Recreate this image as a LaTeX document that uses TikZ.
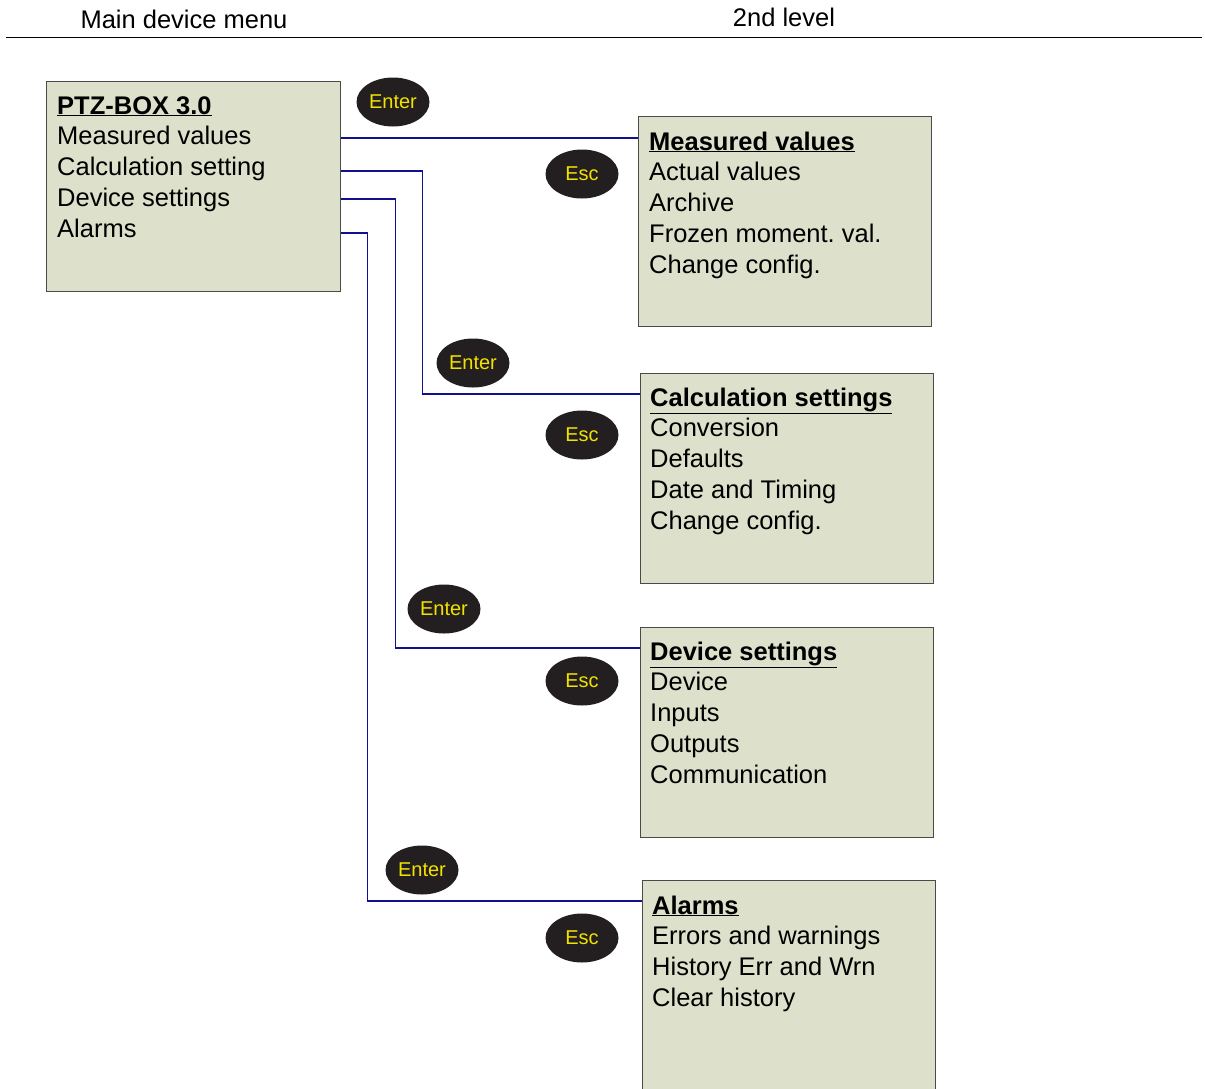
\documentclass[tikz,border=0pt]{standalone}
\usepackage{fontspec}
\setmainfont{Liberation Sans}
\usepackage{tikz}
\usetikzlibrary{calc,positioning,shapes.geometric}
\definecolor{menuFill}{HTML}{DDE1CB}
\definecolor{menuEdge}{HTML}{4A4A48}
\definecolor{linkBlue}{HTML}{11118F}
\definecolor{keyFill}{HTML}{231F20}
\definecolor{keyText}{HTML}{F2E200}
\frenchspacing

\tikzset{
  menubox/.style={draw=menuEdge,line width=1.3pt,fill=menuFill,rectangle,
    anchor=north west,inner sep=0pt,minimum width=294pt,minimum height=210pt},
  menutext/.style={anchor=base west,align=left,inner sep=0pt,
    font=\fontsize{25.5}{30.8}\selectfont},
  keybtn/.style={ellipse,fill=keyFill,text=keyText,inner sep=0pt,
    minimum width=73pt,minimum height=49pt,font=\fontsize{20}{21}\selectfont},
  link/.style={draw=linkBlue,line width=1.6pt},
  headtext/.style={anchor=base,font=\fontsize{25.5}{30}\selectfont}
}
\newcommand{\menutitle}[1]{\underline{\textbf{#1}}}

\begin{document}
\begin{tikzpicture}[x=1pt,y=-1pt]
  \useasboundingbox (0,0) rectangle (1205,1088);
  % header
  \node[headtext] (hmain) at (184,28) {Main device menu};
  \node[headtext] (hsecond) at (784,26) {2nd level};
  \coordinate (rulel) at (6,37);
  \coordinate (ruler) at (1202,37);
  \draw[line width=1pt] (rulel) -- (ruler);

  % main menu (text anchored on its last baseline)
  \node[menubox] (main) at (46,81) {};
  \node[menutext] (maintext) at (57,237.2)
    {\menutitle{PTZ-BOX 3.0}\\Measured values\\Calculation setting\\Device settings\\Alarms};

  % second level menus
  \node[menubox,minimum width=293pt] (mv) at (638,116) {};
  \node[menutext] (mvtext) at (649,273.2)
    {\menutitle{Measured values}\\Actual values\\Archive\\Frozen moment. val.\\Change config.};
  \node[menubox,minimum width=293pt] (cs) at (640,373) {};
  \node[menutext] (cstext) at (650,529.2)
    {\menutitle{Calculation settings}\\Conversion\\Defaults\\Date and Timing\\Change config.};
  \node[menubox,minimum width=293pt] (ds) at (640,627) {};
  \node[menutext] (dstext) at (650,783.2)
    {\menutitle{Device settings}\\Device\\Inputs\\Outputs\\Communication};
  \node[menubox,minimum width=293pt,minimum height=230pt] (al) at (642,880) {};
  \node[menutext] (altext) at (652,1006.4)
    {\menutitle{Alarms}\\Errors and warnings\\History Err and Wrn\\Clear history};

  % connectors
  \coordinate (mvout) at ($(main.north east)+(0,57)$);
  \coordinate (csout) at ($(main.north east)+(0,90)$);
  \coordinate (dsout) at ($(main.north east)+(0,118)$);
  \coordinate (alout) at ($(main.north east)+(0,152)$);
  \coordinate (mvin) at ($(mv.north west)+(0,22)$);
  \coordinate (csin) at ($(cs.north west)+(0,21)$);
  \coordinate (dsin) at ($(ds.north west)+(0,21)$);
  \coordinate (alin) at ($(al.north west)+(0,21)$);
  \draw[link] (mvout) -- (mvin);
  \draw[link] (csout) -- ++(81,0) |- (csin);
  \draw[link] (dsout) -- ++(54,0) |- (dsin);
  \draw[link] (alout) -- ++(26,0) |- (alin);

  % keys
  \node[keybtn] (enter1) at (393,102) {Enter};
  \node[keybtn] (esc1) at (582,174) {Esc};
  \node[keybtn] (enter2) at (473,363) {Enter};
  \node[keybtn] (esc2) at (582,435) {Esc};
  \node[keybtn] (enter3) at (444,609) {Enter};
  \node[keybtn] (esc3) at (582,681) {Esc};
  \node[keybtn] (enter4) at (422,870) {Enter};
  \node[keybtn] (esc4) at (582,938) {Esc};
\end{tikzpicture}
\end{document}
